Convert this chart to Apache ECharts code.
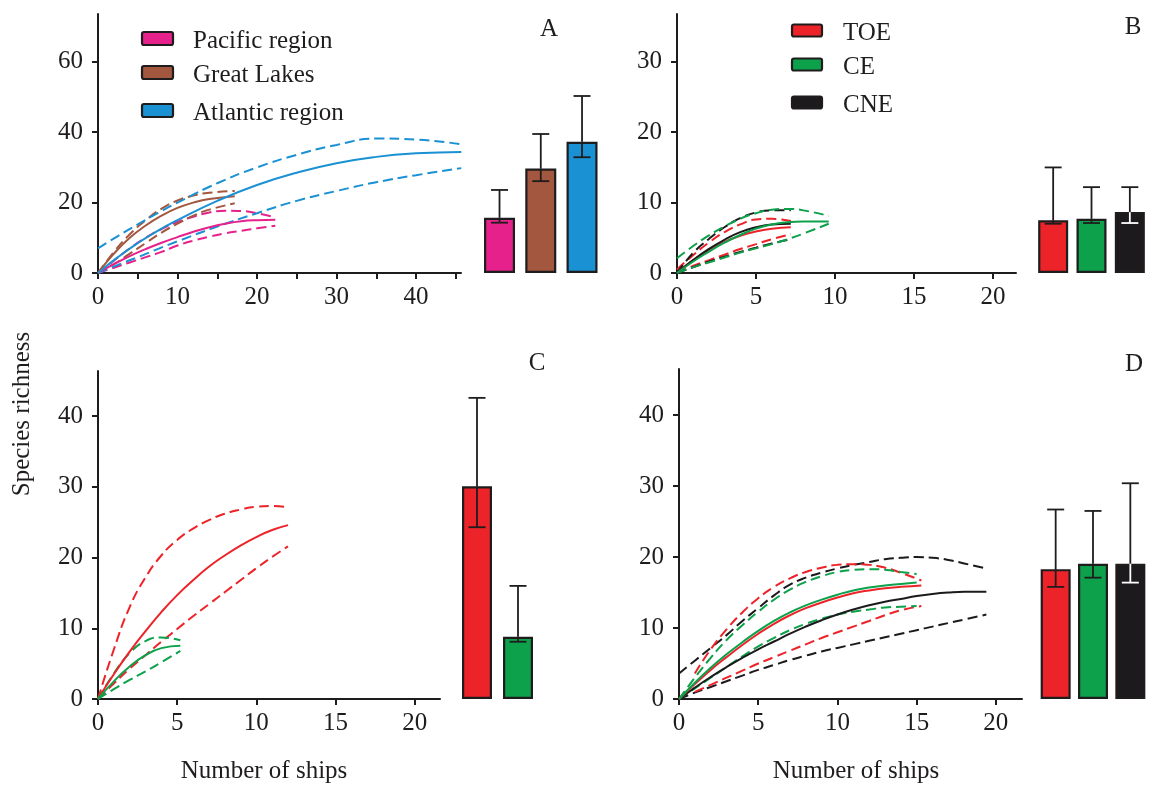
<!DOCTYPE html>
<html>
<head>
<meta charset="utf-8">
<script src="https://cdn.jsdelivr.net/npm/echarts@6/dist/echarts.min.js"></script>
<style>html,body{margin:0;padding:0;background:#fff;}#c{width:1149px;height:786px;}</style>
</head>
<body>
<div id="c"></div>
<script>
// ---------- DATA ----------
// Panel A (regions)
const aCategories = ['Pacific region', 'Great Lakes', 'Atlantic region'];
const aBarValues = [15.7, 29.7, 37.3];
const aBarLow = [14.3, 26.1, 32.9];
const aBarHigh = [23.6, 39.5, 50.3];

const aPacificX = [0, 2, 4, 6, 8, 10, 12, 14, 16, 18, 20, 22.3];
const aPacificMean = [0, 2.5, 4.8, 6.8, 8.6, 10.2, 11.7, 13.0, 14.0, 14.7, 15.0, 15.1];
const aPacificHigh = [0, 3.5, 7.0, 10.0, 12.5, 14.5, 16.0, 17.2, 17.7, 17.6, 17.0, 15.8];
const aPacificLow = [0, 1.5, 3.0, 4.5, 6.0, 7.8, 9.2, 10.3, 11.3, 12.0, 12.7, 13.4];

const aLakesX = [0, 2, 4, 6, 8, 10, 12, 14, 17.2];
const aLakesMean = [0, 5.5, 10.0, 13.5, 16.3, 18.5, 20.0, 21.0, 21.8];
const aLakesHigh = [0, 6.0, 11.0, 15.0, 18.3, 20.6, 22.0, 22.8, 23.3];
const aLakesLow = [0, 2.5, 5.5, 8.5, 11.5, 14.0, 16.3, 18.0, 19.8];

const aAtlanticX = [0, 2.5, 5, 7.5, 10, 15, 20, 25, 30, 35, 40, 45.7];
const aAtlanticMean = [0, 4.5, 8.5, 12.0, 15.0, 20.5, 25.0, 28.5, 31.2, 33.0, 34.0, 34.4];
const aAtlanticHigh = [7.0, 10.5, 13.8, 17.0, 20.0, 25.5, 30.0, 33.6, 36.4, 38.2, 37.9, 36.6];
const aAtlanticLow = [0, 2.3, 4.5, 6.8, 9.0, 13.2, 17.0, 20.5, 23.3, 25.8, 27.8, 29.8];

// Panel B
const bCategories = ['TOE', 'CE', 'CNE'];
const bBarValues = [7.5, 7.7, 8.65];
const bBarLow = [7.0, 7.1, 7.1];
const bBarHigh = [15.0, 12.2, 12.2];

const bToeX = [0, 1, 2, 3, 4, 5, 6, 7.2];
const bToeMean = [0, 1.8, 3.2, 4.4, 5.3, 5.9, 6.3, 6.5];
const bToeHigh = [0.5, 2.5, 4.3, 5.8, 6.9, 7.6, 7.7, 7.4];
const bToeLow = [0, 1.0, 1.8, 2.6, 3.4, 4.1, 4.8, 5.5];

const bCeX = [0, 1, 2, 3, 4, 5, 6, 7, 8, 9.6];
const bCeMean = [0, 1.6, 3.0, 4.3, 5.4, 6.3, 6.9, 7.2, 7.3, 7.3];
const bCeHigh = [2.1, 3.8, 5.3, 6.6, 7.7, 8.5, 9.0, 9.1, 8.9, 8.1];
const bCeLow = [0, 0.8, 1.5, 2.2, 2.9, 3.5, 4.1, 4.8, 5.6, 7.0];

const bCneX = [0, 1, 2, 3, 4, 5, 6, 7.2];
const bCneMean = [0, 1.8, 3.4, 4.7, 5.8, 6.5, 6.9, 7.0];
const bCneHigh = [0, 2.8, 4.8, 6.5, 7.8, 8.6, 8.9, 8.9];
const bCneLow = [0, 0.8, 1.6, 2.3, 3.0, 3.6, 4.2, 4.8];

// Panel C
const cCategories = ['TOE', 'CE'];
const cBarValues = [30.1, 8.8];
const cBarLow = [24.3, 8.1];
const cBarHigh = [42.6, 16.0];

const cToeX = [0, 1, 2, 3, 4, 5, 6, 7, 8, 9, 10, 11, 12];
const cToeMean = [0, 3.5, 6.7, 9.6, 12.3, 14.7, 16.8, 18.7, 20.3, 21.7, 22.9, 23.9, 24.6];
const cToeHigh = [0, 7.0, 13.0, 17.2, 20.3, 22.5, 24.1, 25.3, 26.2, 26.8, 27.2, 27.3, 27.1];
const cToeLow = [0, 2.2, 4.3, 6.2, 8.1, 9.9, 11.7, 13.4, 15.1, 16.8, 18.5, 20.1, 21.6];

const cCeX = [0, 1, 2, 3, 4, 5.2];
const cCeMean = [0, 2.5, 4.6, 6.2, 7.2, 7.55];
const cCeHigh = [0, 3.6, 6.5, 8.2, 8.7, 8.3];
const cCeLow = [0, 1.4, 2.7, 3.9, 5.2, 6.8];

// Panel D
const dCategories = ['TOE', 'CE', 'CNE'];
const dBarValues = [18.3, 19.05, 19.05];
const dBarLow = [15.8, 17.1, 16.4];
const dBarHigh = [26.7, 26.5, 30.4];

const dToeX = [0, 1, 2, 3, 4, 5, 6, 7, 8, 9, 10, 11, 12, 13, 14, 15.3];
const dToeMean = [0, 2.1, 4.1, 5.9, 7.6, 9.2, 10.6, 11.8, 12.8, 13.6, 14.3, 14.9, 15.3, 15.6, 15.8, 16.0];
const dToeHigh = [null, 3.6, 7.0, 9.8, 12.2, 14.2, 15.8, 17.0, 17.9, 18.5, 18.9, 19.0, 18.9, 18.5, 17.8, 16.7];
const dToeLow = [null, 1.0, 2.0, 3.0, 4.0, 5.0, 5.9, 6.8, 7.7, 8.6, 9.4, 10.2, 11.0, 11.8, 12.5, 13.1];

const dCeX = [0, 1, 2, 3, 4, 5, 6, 7, 8, 9, 10, 11, 12, 13, 14, 15];
const dCeMean = [0, 2.3, 4.4, 6.3, 8.0, 9.6, 11.0, 12.2, 13.2, 14.0, 14.7, 15.3, 15.7, 16.0, 16.2, 16.4];
const dCeHigh = [0, 3.0, 5.8, 8.3, 10.4, 12.3, 14.0, 15.4, 16.5, 17.3, 17.9, 18.2, 18.3, 18.2, 17.9, 17.6];
const dCeLow = [0, 1.5, 3.0, 4.5, 6.0, 7.4, 8.6, 9.7, 10.6, 11.3, 11.9, 12.3, 12.6, 12.9, 13.0, 13.1];

const dCneX = [0, 1, 2, 3, 4, 5, 6, 7, 8, 9, 10, 11, 12, 13, 14, 15, 16, 17, 18, 19.4];
const dCneMean = [0, 1.6, 3.1, 4.5, 5.8, 7.0, 8.1, 9.2, 10.2, 11.1, 11.9, 12.6, 13.2, 13.7, 14.1, 14.5, 14.8, 15.0, 15.1, 15.1];
const dCneHigh = [3.6, 5.4, 7.2, 9.0, 11.0, 12.8, 14.6, 16.1, 17.1, 17.8, 18.4, 18.9, 19.3, 19.7, 19.9, 20.0, 19.9, 19.6, 19.1, 18.4];
const dCneLow = [0, 0.9, 1.7, 2.5, 3.3, 4.1, 4.8, 5.5, 6.1, 6.7, 7.2, 7.7, 8.2, 8.7, 9.2, 9.7, 10.2, 10.7, 11.2, 11.9];

// Tick labels
const aXTicks = [0, 5, 10, 15, 20, 25, 30, 35, 40, 45];
const aXLabels = [0, 10, 20, 30, 40];
const aYTicks = [0, 20, 40, 60];
const bYTicks = [0, 10, 20, 30];
const cdYTicks = [0, 10, 20, 30, 40];
const bcdXTicks = [0, 5, 10, 15, 20];

// ---------- STYLE ----------
const FONT = '"Liberation Serif", "Times New Roman", "DejaVu Serif", serif';
const INK = '#1f1c1d';
const C_PINK = '#E6218C', C_BROWN = '#A4573F', C_BLUE = '#1A91D3';
const C_RED = '#EC2329', C_GREEN = '#0DA14B', C_BLACK = '#1c1a1c';

const chart = echarts.init(document.getElementById('c'), null, {renderer: 'canvas'});

function valueXAxis(gi, max, ticks, labels) {
  return {
    type: 'value', gridIndex: gi, min: 0, max: max,
    axisLine: {show: true, onZero: false, lineStyle: {color: INK, width: 2}},
    axisTick: {show: true, length: 6, lineStyle: {color: INK, width: 2}, customValues: ticks},
    axisLabel: {show: true, customValues: labels, margin: 12, fontFamily: FONT, fontSize: 25, color: INK},
    splitLine: {show: false}
  };
}
function valueYAxis(gi, max, ticks) {
  return {
    type: 'value', gridIndex: gi, min: 0, max: max,
    axisLine: {show: true, onZero: false, lineStyle: {color: INK, width: 2}},
    axisTick: {show: true, length: 6, lineStyle: {color: INK, width: 2}, customValues: ticks},
    axisLabel: {show: true, customValues: ticks, margin: 15, fontFamily: FONT, fontSize: 25, color: INK},
    splitLine: {show: false}
  };
}
function catXAxis(gi, cats) {
  return {type: 'category', gridIndex: gi, data: cats, show: false};
}
function hiddenYAxis(gi, max) {
  return {type: 'value', gridIndex: gi, min: 0, max: max, show: false};
}

function curve(name, xs, ys, color, dashed, axis) {
  return {
    type: 'line', name: name, xAxisIndex: axis, yAxisIndex: axis,
    data: xs.map((x, i) => [x, ys[i]]),
    smooth: 0.5, symbol: 'none', showSymbol: false,
    connectNulls: false, silent: true,
    lineStyle: {color: color, width: 2, type: dashed ? [10, 5] : 'solid'},
    z: dashed ? 3 : 4
  };
}
function curveSet(name, xs, mean, low, high, color, axis) {
  return [
    curve(name + ' upper', xs, high, color, true, axis),
    curve(name + ' lower', xs, low, color, true, axis),
    curve(name, xs, mean, color, false, axis)
  ];
}

function bars(name, values, colors, axis, width) {
  return {
    type: 'bar', name: name, xAxisIndex: axis, yAxisIndex: axis, barWidth: width,
    data: values.map((v, i) => ({value: v, itemStyle: {color: colors[i]}})),
    itemStyle: {borderColor: INK, borderWidth: 2.2},
    silent: true, z: 2
  };
}
function errRender(params, api) {
  const idx = api.value(0), v = api.value(1), lo = api.value(2), hi = api.value(3), inv = api.value(4);
  const pV = api.coord([idx, v]), pL = api.coord([idx, lo]), pH = api.coord([idx, hi]);
  const x = pV[0], hw = 8.5;
  const lowC = inv ? '#ffffff' : INK;
  const st = c => ({stroke: c, lineWidth: 1.8});
  return {type: 'group', children: [
    {type: 'line', shape: {x1: x, y1: pV[1], x2: x, y2: pH[1]}, style: st(INK)},
    {type: 'line', shape: {x1: x - hw, y1: pH[1], x2: x + hw, y2: pH[1]}, style: st(INK)},
    {type: 'line', shape: {x1: x, y1: pV[1], x2: x, y2: pL[1]}, style: st(lowC)},
    {type: 'line', shape: {x1: x - hw, y1: pL[1], x2: x + hw, y2: pL[1]}, style: st(lowC)}
  ]};
}
function errors(values, low, high, colors, axis) {
  return {
    type: 'custom', xAxisIndex: axis, yAxisIndex: axis, silent: true, z: 5,
    renderItem: errRender,
    encode: {x: 0, y: [1, 2, 3]},
    data: values.map((v, i) => [i, v, low[i], high[i], colors[i] === C_BLACK ? 1 : 0])
  };
}

const colorsA = [C_PINK, C_BROWN, C_BLUE];
const colorsRGB = [C_RED, C_GREEN, C_BLACK];

const series = [].concat(
  curveSet('Pacific region', aPacificX, aPacificMean, aPacificLow, aPacificHigh, C_PINK, 0),
  curveSet('Great Lakes', aLakesX, aLakesMean, aLakesLow, aLakesHigh, C_BROWN, 0),
  curveSet('Atlantic region', aAtlanticX, aAtlanticMean, aAtlanticLow, aAtlanticHigh, C_BLUE, 0),
  [bars('A bars', aBarValues, colorsA, 1, 31), errors(aBarValues, aBarLow, aBarHigh, colorsA, 1)],
  curveSet('B TOE', bToeX, bToeMean, bToeLow, bToeHigh, C_RED, 2),
  curveSet('B CNE', bCneX, bCneMean, bCneLow, bCneHigh, C_BLACK, 2),
  curveSet('B CE', bCeX, bCeMean, bCeLow, bCeHigh, C_GREEN, 2),
  [bars('B bars', bBarValues, colorsRGB, 3, 30), errors(bBarValues, bBarLow, bBarHigh, colorsRGB, 3)],
  curveSet('C TOE', cToeX, cToeMean, cToeLow, cToeHigh, C_RED, 4),
  curveSet('C CE', cCeX, cCeMean, cCeLow, cCeHigh, C_GREEN, 4),
  [bars('C bars', cBarValues, colorsRGB, 5, 30), errors(cBarValues, cBarLow, cBarHigh, colorsRGB, 5)],
  curveSet('D CNE', dCneX, dCneMean, dCneLow, dCneHigh, C_BLACK, 6),
  curveSet('D TOE', dToeX, dToeMean, dToeLow, dToeHigh, C_RED, 6),
  curveSet('D CE', dCeX, dCeMean, dCeLow, dCeHigh, C_GREEN, 6),
  [bars('D bars', dBarValues, colorsRGB, 7, 30), errors(dBarValues, dBarLow, dBarHigh, colorsRGB, 7)]
);

function legendSwatch(x, y, w, h, color) {
  return {type: 'rect', shape: {x: x, y: y, width: w, height: h, r: 2},
    style: {fill: color, stroke: INK, lineWidth: 2.2}, silent: true};
}
function label(text, x, y, size) {
  return {type: 'text', x: x, y: y, silent: true,
    style: {text: text, fontFamily: FONT, fontSize: size || 25, fill: INK, align: 'left', verticalAlign: 'middle'}};
}
function centered(text, x, y, size) {
  const t = label(text, x, y, size);
  t.style.align = 'center';
  return t;
}

const graphics = [
  // legend A
  legendSwatch(142, 32, 31, 13, C_PINK), label(aCategories[0], 193, 41),
  legendSwatch(142, 66, 31, 13, C_BROWN), label(aCategories[1], 193, 75),
  legendSwatch(142, 104, 31, 13, C_BLUE), label(aCategories[2], 193, 113),
  // legend B
  legendSwatch(792, 24.5, 30, 12, C_RED), label(bCategories[0], 843, 33),
  legendSwatch(792, 58.5, 30, 12, C_GREEN), label(bCategories[1], 843, 67),
  legendSwatch(792, 96.5, 30, 12, C_BLACK), label(bCategories[2], 843, 105),
  // panel letters
  centered('A', 549, 29), centered('B', 1133, 27), centered('C', 537, 363), centered('D', 1134, 364),
  // axis names
  centered('Number of ships', 264, 771), centered('Number of ships', 856, 771),
  {type: 'text', x: 22, y: 414, rotation: Math.PI / 2, silent: true,
    style: {text: 'Species richness', fontFamily: FONT, fontSize: 25, fill: INK, align: 'center', verticalAlign: 'middle'}}
];

chart.setOption({
  backgroundColor: '#ffffff',
  animation: false,
  grid: [
    {left: 98, top: 14, width: 363, height: 259},
    {left: 478.9, top: 14, width: 123.75, height: 259},
    {left: 677, top: 14, width: 339, height: 259},
    {left: 1034, top: 14, width: 121.5, height: 259},
    {left: 98, top: 371, width: 342, height: 328},
    {left: 456.5, top: 371, width: 82, height: 328},
    {left: 679, top: 369, width: 343, height: 330},
    {left: 1037, top: 369, width: 123, height: 330}
  ],
  xAxis: [
    valueXAxis(0, 45.66, aXTicks, aXLabels),
    catXAxis(1, aCategories),
    valueXAxis(2, 21.45, bcdXTicks, bcdXTicks),
    catXAxis(3, bCategories),
    valueXAxis(4, 21.6, bcdXTicks, bcdXTicks),
    catXAxis(5, cCategories),
    valueXAxis(6, 21.65, bcdXTicks, bcdXTicks),
    catXAxis(7, dCategories)
  ],
  yAxis: [
    valueYAxis(0, 73.6, aYTicks),
    hiddenYAxis(1, 73.6),
    valueYAxis(2, 36.8, bYTicks),
    hiddenYAxis(3, 36.8),
    valueYAxis(4, 46.4, cdYTicks),
    hiddenYAxis(5, 46.4),
    valueYAxis(6, 46.5, cdYTicks),
    hiddenYAxis(7, 46.5)
  ],
  graphic: graphics,
  series: series
});
</script>
</body>
</html>
